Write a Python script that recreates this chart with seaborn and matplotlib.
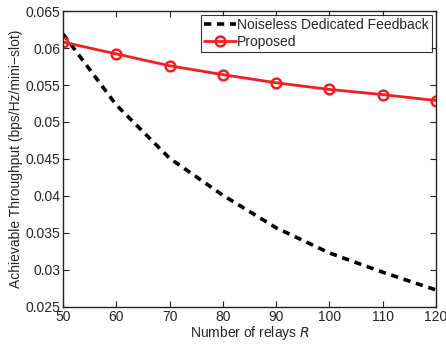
import matplotlib
matplotlib.use("Agg")
import matplotlib.pyplot as plt
import pandas as pd
import seaborn as sns

relays = [50, 60, 70, 80, 90, 100, 110, 120]
noiseless = [0.0619, 0.0523, 0.0451, 0.0401, 0.0357, 0.0323, 0.0297, 0.0273]
proposed = [0.0608, 0.0592, 0.0576, 0.0564, 0.0553, 0.0544, 0.0537, 0.0529]

x_ticks = [50, 60, 70, 80, 90, 100, 110, 120]
y_ticks = [0.025, 0.03, 0.035, 0.04, 0.045, 0.05, 0.055, 0.06, 0.065]
y_labels = ["0.025", "0.03", "0.035", "0.04", "0.045", "0.05", "0.055", "0.06", "0.065"]

df = pd.DataFrame({"R": relays, "Noiseless": noiseless, "Proposed": proposed})

sns.set_style("ticks")
plt.rcParams["font.family"] = ["Liberation Sans", "DejaVu Sans"]
plt.rcParams["xtick.direction"] = "in"
plt.rcParams["ytick.direction"] = "in"

fig = plt.figure(figsize=(4.46, 3.44), dpi=100)
ax = fig.add_axes([0.1413, 0.1076, 0.8363, 0.8604])

sns.lineplot(data=df, x="R", y="Noiseless", ax=ax, color="black", lw=2.6,
             linestyle=(0, (2.0, 1.6)), label="Noiseless Dedicated Feedback")
sns.lineplot(data=df, x="R", y="Proposed", ax=ax, color="#f02020", lw=2.0,
             marker="o", markersize=7, markerfacecolor="none",
             markeredgecolor="#f02020", markeredgewidth=1.8, label="Proposed")

ax.set_xlim(50, 120)
ax.set_ylim(0.025, 0.065)
ax.set_xticks(x_ticks)
ax.set_yticks(y_ticks)
ax.set_yticklabels(y_labels)
ax.tick_params(axis="both", labelsize=10, length=4, width=0.8, color="#222222",
               top=True, right=True, pad=2)
for s in ax.spines.values():
    s.set_linewidth(1.0)
    s.set_color("#222222")

ax.set_xlabel("Number of relays $R$", fontsize=10, labelpad=0)
ax.set_ylabel("Achievable Throughput (bps/Hz/mini\u2212slot)", fontsize=10, labelpad=2)

leg = ax.legend(loc="upper right", fontsize=10, frameon=True, fancybox=False,
                borderpad=0.2, handlelength=2.3, handletextpad=0.1,
                labelspacing=0.2, borderaxespad=0.3)
leg.get_frame().set_edgecolor("black")
leg.get_frame().set_linewidth(0.8)

fig.savefig("out.png", dpi=100)
